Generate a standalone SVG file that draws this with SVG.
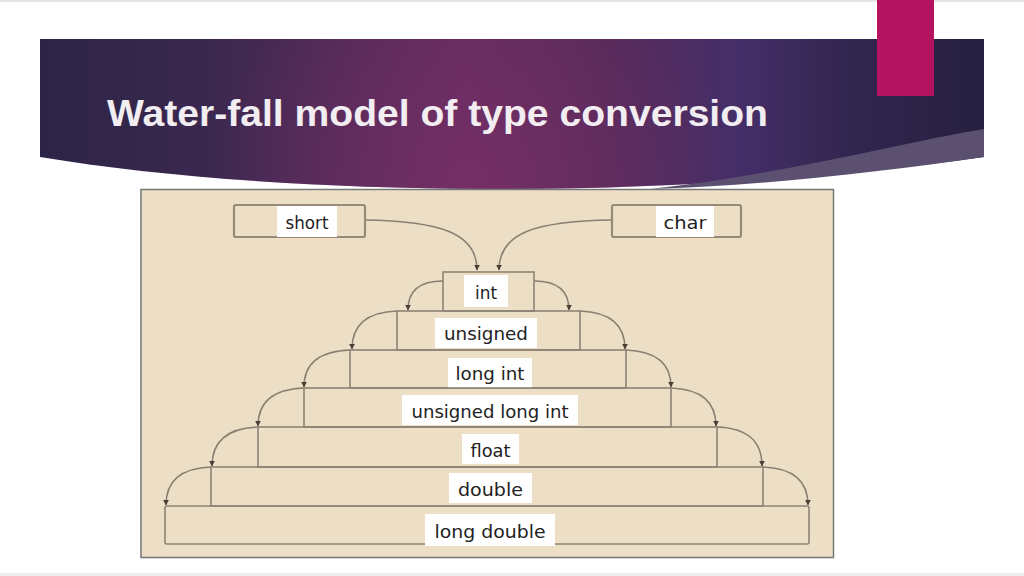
<svg xmlns="http://www.w3.org/2000/svg" width="1024" height="576" viewBox="0 0 1024 576">
<defs>
<linearGradient id="bannerGrad" x1="40" y1="0" x2="984" y2="0" gradientUnits="userSpaceOnUse">
<stop offset="0" stop-color="#2c2446"/>
<stop offset="0.18" stop-color="#3b2850"/>
<stop offset="0.45" stop-color="#632c5e"/>
<stop offset="0.6" stop-color="#542a5a"/>
<stop offset="0.74" stop-color="#452e68"/>
<stop offset="0.86" stop-color="#31264f"/>
<stop offset="1" stop-color="#262040"/>
</linearGradient>
<radialGradient id="glow" cx="470" cy="185" r="260" gradientUnits="userSpaceOnUse">
<stop offset="0" stop-color="#7a3068" stop-opacity="0.75"/>
<stop offset="1" stop-color="#7a3068" stop-opacity="0"/>
</radialGradient>
<marker id="arr" viewBox="0 0 10 10" refX="9" refY="5" markerWidth="6" markerHeight="6" markerUnits="userSpaceOnUse" orient="auto">
<path d="M0,0 L10,5 L0,10 Z" fill="#4a3f35"/>
</marker>
<style>
.lay{fill:none;stroke:#8e8476;stroke-width:1.6}
.src{fill:none;stroke:#978a79;stroke-width:2.2}
.lbl{fill:#ffffff}
.txt{font-family:"DejaVu Sans","Liberation Sans",sans-serif;font-size:18px;fill:#222222;text-anchor:middle}
.con{fill:none;stroke:#8a7f70;stroke-width:1.6;marker-end:url(#arr)}
</style>
</defs>
<rect x="0" y="0" width="1024" height="576" fill="#ffffff"/>
<rect x="0" y="0" width="1024" height="2" fill="#e6e6e6"/>
<rect x="0" y="573" width="1024" height="3" fill="#ededed"/>
<g id="banner">
<path d="M40,39 H984 V157 C860,174 680,190 490,189 C310,188 160,177 40,157 Z" fill="url(#bannerGrad)"/>
<path d="M40,39 H984 V157 C860,174 680,190 490,189 C310,188 160,177 40,157 Z" fill="url(#glow)"/>
<path d="M984,129 C900,143 780,175 650,189 C760,186 880,172 984,157 Z" fill="#5c5071"/>
<rect x="877" y="0" width="57" height="96" fill="#b4145f"/>
<text x="107" y="126" font-family="'Liberation Sans',Arial,sans-serif" font-weight="bold" font-size="37" fill="#f1edf1" textLength="661" lengthAdjust="spacingAndGlyphs">Water-fall model of type conversion</text>
</g>
<rect id="panel" x="141" y="189.5" width="692.5" height="368" fill="#ecdfc6" stroke="#777777" stroke-width="1.5"/>
<g id="connectors">
<path class="con" d="M364,220 C440,221 477,233 477,270"/>
<path class="con" d="M612,220 C535,221 499,233 499,270"/>
<path class="con" d="M443,281 C420,281 408,290 408,310"/>
<path class="con" d="M534,281 C557,281 569,290 569,310"/>
<path class="con" d="M397,311 C370,312 352,322 352,349"/>
<path class="con" d="M580,311 C607,312 625,322 625,349"/>
<path class="con" d="M350,350 C323,351 304,361 304,387"/>
<path class="con" d="M626,350 C653,351 671,361 671,387"/>
<path class="con" d="M304,388 C277,389 258,399 258,426"/>
<path class="con" d="M671,388 C698,389 716,399 716,426"/>
<path class="con" d="M258,427 C231,428 212,438 212,466"/>
<path class="con" d="M717,427 C744,428 762,438 762,466"/>
<path class="con" d="M211,467 C184,468 166,478 166,505"/>
<path class="con" d="M763,467 C790,468 808,478 808,505"/>
</g>
<g id="node-short">
<rect class="src" x="234" y="205" width="131" height="32" rx="2"/>
<rect class="lbl" x="277" y="206" width="60" height="31"/>
<text class="txt" x="307" y="229" textLength="43" lengthAdjust="spacingAndGlyphs">short</text>
</g>
<g id="node-char">
<rect class="src" x="612" y="205" width="129" height="32" rx="2"/>
<rect class="lbl" x="656" y="206" width="58" height="31"/>
<text class="txt" x="685" y="229" textLength="43" lengthAdjust="spacingAndGlyphs">char</text>
</g>
<g id="node-int">
<rect class="lay" x="443" y="272" width="91" height="39"/>
<rect class="lbl" x="464" y="275" width="44" height="32"/>
<text class="txt" x="486" y="299" textLength="22" lengthAdjust="spacingAndGlyphs">int</text>
</g>
<g id="node-unsigned">
<rect class="lay" x="397" y="311" width="183" height="39"/>
<rect class="lbl" x="435" y="318" width="102" height="30"/>
<text class="txt" x="486" y="340" textLength="84" lengthAdjust="spacingAndGlyphs">unsigned</text>
</g>
<g id="node-long-int">
<rect class="lay" x="350" y="350" width="276" height="38"/>
<rect class="lbl" x="448" y="358" width="84" height="30"/>
<text class="txt" x="490" y="380" textLength="69" lengthAdjust="spacingAndGlyphs">long int</text>
</g>
<g id="node-unsigned-long-int">
<rect class="lay" x="304" y="388" width="367" height="39"/>
<rect class="lbl" x="402" y="395" width="176" height="30"/>
<text class="txt" x="490" y="418" textLength="157" lengthAdjust="spacingAndGlyphs">unsigned long int</text>
</g>
<g id="node-float">
<rect class="lay" x="258" y="427" width="459" height="40"/>
<rect class="lbl" x="462" y="434" width="57" height="30"/>
<text class="txt" x="490.5" y="457" textLength="40" lengthAdjust="spacingAndGlyphs">float</text>
</g>
<g id="node-double">
<rect class="lay" x="211" y="467" width="552" height="39"/>
<rect class="lbl" x="449" y="473" width="83" height="30"/>
<text class="txt" x="490.5" y="496" textLength="65" lengthAdjust="spacingAndGlyphs">double</text>
</g>
<g id="node-long-double">
<rect class="lay" x="165" y="506" width="644" height="38" rx="2"/>
<rect class="lbl" x="425" y="514" width="130" height="32"/>
<text class="txt" x="490" y="538" textLength="111" lengthAdjust="spacingAndGlyphs">long double</text>
</g>
</svg>
